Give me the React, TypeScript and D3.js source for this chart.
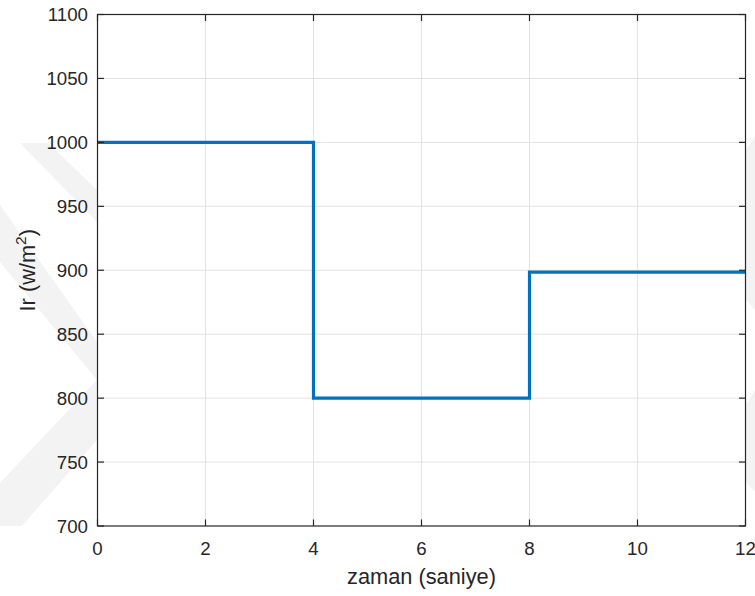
import React from "react";
import * as d3 from "d3";

const times = [0, 4, 4, 8, 8, 12];
const irradiance = [1000, 1000, 800, 800, 898.5, 898.5];
const xTicks = [0, 2, 4, 6, 8, 10, 12];
const yTicks = [700, 750, 800, 850, 900, 950, 1000, 1050, 1100];

const W = 755;
const H = 596;
const M = { left: 97.5, right: 745.5, top: 14.5, bottom: 526 };
const AX = "#262626";
const FONT = "'Liberation Sans', Arial, Helvetica, sans-serif";

export default function App() {
  const x = d3.scaleLinear().domain([0, 12]).range([M.left, M.right]);
  const y = d3.scaleLinear().domain([700, 1100]).range([M.bottom, M.top]);
  const pts: [number, number][] = times.map((t, i) => [t, irradiance[i]]);
  const line = d3
    .line<[number, number]>()
    .x((d) => x(d[0]))
    .y((d) => y(d[1]));
  const tl = 6.5;
  return (
    <svg
      width={W}
      height={H}
      style={{ position: "absolute", left: 0, top: 0, background: "#fff" }}
      fontFamily={FONT}
    >
      {/* faint watermark */}
      <g fill="#f3f3f3">
        <polygon points="20,143 48,143 97,190 97,222" />
        <polygon points="0,205 97,342 97,380 0,262" />
        <polygon points="97,380 97,440 22,526 0,526 0,483" />
        <polygon points="746,150 755,136 755,310 746,300" />
        <polygon points="746,405 755,390 755,492 746,482" />
      </g>
      <rect
        x={M.left}
        y={M.top}
        width={M.right - M.left}
        height={M.bottom - M.top}
        fill="#fff"
      />
      {/* grid */}
      <g stroke="#e3e3e3" strokeWidth={1}>
        {xTicks.slice(1, -1).map((t) => (
          <line key={"gx" + t} x1={x(t)} x2={x(t)} y1={M.top} y2={M.bottom} />
        ))}
        {yTicks.slice(1, -1).map((t) => (
          <line key={"gy" + t} x1={M.left} x2={M.right} y1={y(t)} y2={y(t)} />
        ))}
      </g>
      {/* data */}
      <path
        d={line(pts) || ""}
        fill="none"
        stroke="#0072BD"
        strokeWidth={3.2}
        strokeLinejoin="miter"
      />
      {/* box */}
      <rect
        x={M.left}
        y={M.top}
        width={M.right - M.left}
        height={M.bottom - M.top}
        fill="none"
        stroke={AX}
        strokeWidth={1.2}
      />
      {/* ticks */}
      <g stroke={AX} strokeWidth={1.2}>
        {xTicks.map((t) => (
          <g key={"tx" + t}>
            <line x1={x(t)} x2={x(t)} y1={M.bottom} y2={M.bottom - tl} />
            <line x1={x(t)} x2={x(t)} y1={M.top} y2={M.top + tl} />
          </g>
        ))}
        {yTicks.map((t) => (
          <g key={"ty" + t}>
            <line x1={M.left} x2={M.left + tl} y1={y(t)} y2={y(t)} />
            <line x1={M.right} x2={M.right - tl} y1={y(t)} y2={y(t)} />
          </g>
        ))}
      </g>
      {/* tick labels */}
      <g fill={AX} fontSize={18.7}>
        {xTicks.map((t) => (
          <text key={"lx" + t} x={x(t)} y={554.5} textAnchor="middle">
            {t}
          </text>
        ))}
        {yTicks.map((t) => (
          <text key={"ly" + t} x={88} y={y(t) + 6.7} textAnchor="end">
            {t}
          </text>
        ))}
      </g>
      {/* axis labels */}
      <text
        x={(M.left + M.right) / 2}
        y={583.5}
        textAnchor="middle"
        fill={AX}
        fontSize={21.8}
      >
        zaman (saniye)
      </text>
      <text
        transform={`translate(34.5,${(M.top + M.bottom) / 2}) rotate(-90)`}
        textAnchor="middle"
        fill={AX}
        fontSize={21.8}
      >
        Ir (w/m
        <tspan dy={-9} fontSize={15.5}>
          2
        </tspan>
        <tspan dy={9}>)</tspan>
      </text>
    </svg>
  );
}
